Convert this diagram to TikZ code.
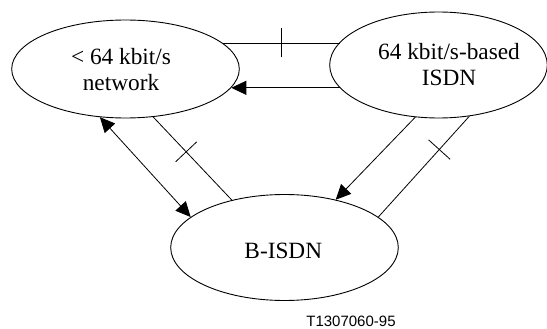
\documentclass[tikz,border=0pt]{standalone}
\usepackage{fontspec}
\setmainfont{Liberation Serif}
\newfontfamily\labelfont{Liberation Sans}
\usetikzlibrary{shapes.geometric,arrows.meta,decorations.markings}
\begin{document}
\begin{tikzpicture}[x=1pt,y=-1pt,
  net/.style={ellipse, draw, line width=0.9pt, inner sep=0pt},
  txt/.style={font=\fontsize{23.3}{26}\selectfont, align=center, inner sep=0pt},
  ln/.style={line width=0.8pt},
  arr/.style={-{Triangle[length=15pt,width=14pt]}},
  darr/.style={{Triangle[length=15pt,width=14pt]}-{Triangle[length=15pt,width=14pt]}},
  tickat/.style={postaction={decorate},
    decoration={markings, mark=at position #1 with {\draw[line width=0.8pt] (0pt,-14.5pt) -- (0pt,14.5pt);}}}
]
\useasboundingbox (0,0) rectangle (547,329);
\node[net, minimum width=227.6pt, minimum height=98pt] (L) at (125.5,69) {};
\node[net, minimum width=217.6pt, minimum height=106pt] (R) at (438.5,65) {};
\node[net, minimum width=227.6pt, minimum height=106pt] (B) at (284.5,247.5) {};
\node[txt] (Lt) at (121,70) {< 64 kbit/s\\network};
\node[txt] (Rt) at (449,65) {64 kbit/s-based\\ISDN};
\node[txt, anchor=base] (Bt) at (283.3,258.3) {B-ISDN};
\node[font=\labelfont\fontsize{15}{18}\selectfont, anchor=base, inner sep=0pt] (code) at (351,326.5) {T1307060-95};
\draw[ln, tickat=0.5] (L.15) -- (R.167.7 |- L.15);
\draw[ln, arr] (R.-167.1) -- (L.-10.9 |- R.-167.1);
\draw[ln, darr] (L.-118.9) -- (B.162);
\draw[ln, tickat=0.42] (L.-60.1) -- (B.138);
\draw[ln, arr] (R.-114) -- (B.43.2);
\draw[ln, tickat=0.33] (R.-59.6) -- (B.18.2);
\end{tikzpicture}
\end{document}
